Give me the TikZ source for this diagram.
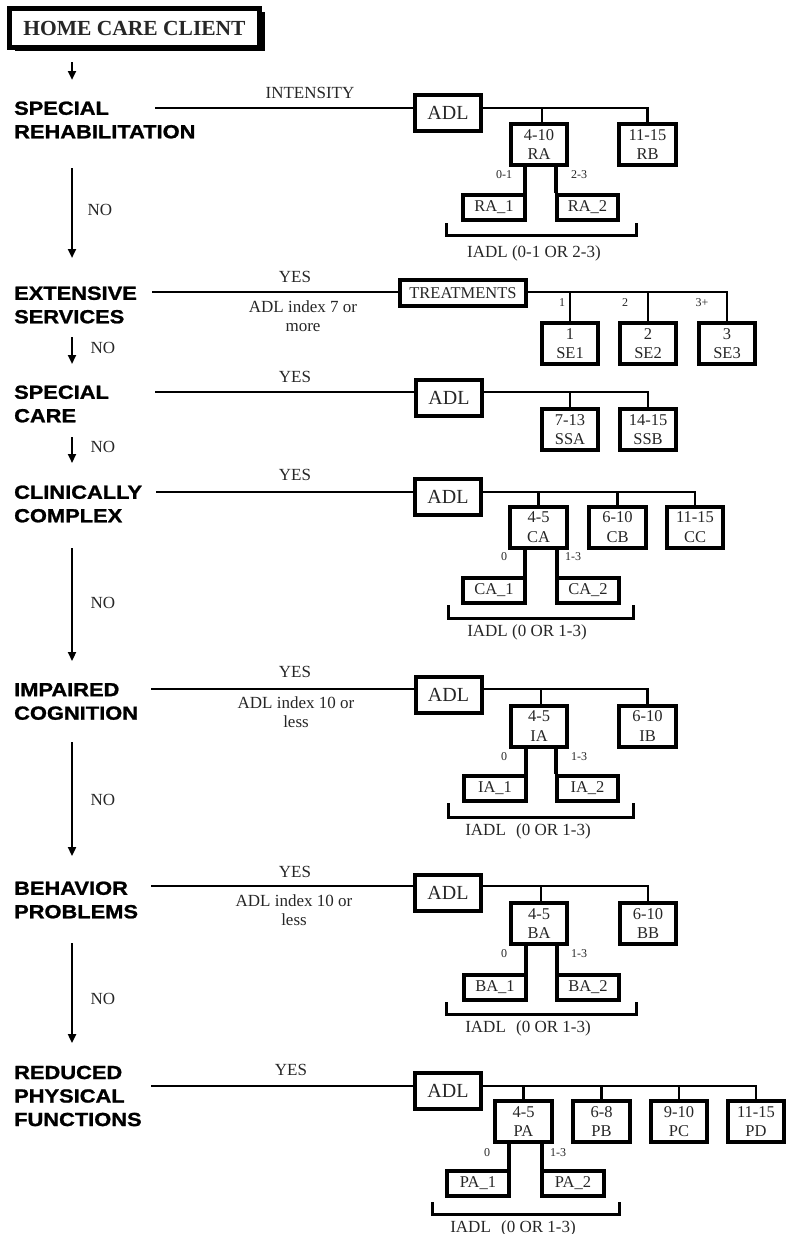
\documentclass[tikz,border=0pt]{standalone}
\usepackage{fontspec}
\setmainfont{Liberation Serif}
\newfontfamily\catfont{Liberation Sans}[FakeStretch=1.15, BoldFeatures={FakeBold=1.2}]
\usetikzlibrary{arrows.meta,shadows}
\begin{document}
\begin{tikzpicture}[x=1pt,y=-1pt,
  bx/.style={draw, line width=4pt, inner sep=0pt, align=center, text=black!85, font=\fontsize{16.5}{19.5}\selectfont},
  adlbox/.style={bx, minimum width=66pt, minimum height=36pt, font=\fontsize{20}{22}\selectfont},
  scbox/.style={bx, minimum width=56.5pt, minimum height=41pt},
  subbox/.style={bx, minimum width=61.5pt, minimum height=25pt},
  catlbl/.style={anchor=west, align=left, inner sep=0pt, font=\catfont\bfseries\fontsize{19}{23.5}\selectfont},
  lbl/.style={inner sep=0pt, align=center, text=black!85, font=\fontsize{17}{18.5}\selectfont},
  smalllbl/.style={inner sep=0pt, text=black!85, font=\fontsize{12}{14}\selectfont},
  conn/.style={line width=2.8pt},
  subconn/.style={line width=3.6pt},
  brk/.style={line width=3pt},
  arr/.style={line width=2.8pt, -{Triangle[length=9pt,width=8pt]}},
]
\useasboundingbox (0,0) rectangle (785,1234);

% ---------- top
\node[draw, line width=5pt, minimum width=250pt, minimum height=39pt, inner sep=0pt,
  fill=white, drop shadow={shadow xshift=5pt, shadow yshift=-3pt, fill=black, opacity=1},
  font=\bfseries\fontsize{21.5}{24}\selectfont, text=black!85] (home) at (134.5,28) {HOME CARE CLIENT};
\coordinate (h0s) at (72,62);
\coordinate (h0e) at (72,80);
\draw[arr] (h0s) -- (h0e);

% ---------- categories
\node[catlbl] (cat1) at (14,120) {SPECIAL\\REHABILITATION};
\node[catlbl] (cat2) at (14,305) {EXTENSIVE\\SERVICES};
\node[catlbl] (cat3) at (14,404) {SPECIAL\\CARE};
\node[catlbl] (cat4) at (14,504) {CLINICALLY\\COMPLEX};
\node[catlbl] (cat5) at (14,701.5) {IMPAIRED\\COGNITION};
\node[catlbl] (cat6) at (14,900) {BEHAVIOR\\PROBLEMS};
\node[catlbl] (cat7) at (14,1096) {REDUCED\\PHYSICAL\\FUNCTIONS};

% ---------- NO arrows
\coordinate (n1s) at (72,168);  \coordinate (n1e) at (72,258);
\coordinate (n2s) at (72,337);  \coordinate (n2e) at (72,364);
\coordinate (n3s) at (72,437);  \coordinate (n3e) at (72,463);
\coordinate (n4s) at (72,548);  \coordinate (n4e) at (72,661);
\coordinate (n5s) at (72,742);  \coordinate (n5e) at (72,856);
\coordinate (n6s) at (72,943);  \coordinate (n6e) at (72,1043);
\draw[arr] (n1s) -- (n1e);
\draw[arr] (n2s) -- (n2e);
\draw[arr] (n3s) -- (n3e);
\draw[arr] (n4s) -- (n4e);
\draw[arr] (n5s) -- (n5e);
\draw[arr] (n6s) -- (n6e);
\node[lbl] (no1) at (100,210) {NO};
\node[lbl] (no2) at (103,348) {NO};
\node[lbl] (no3) at (103,447) {NO};
\node[lbl] (no4) at (103,603) {NO};
\node[lbl] (no5) at (103,800) {NO};
\node[lbl] (no6) at (103,999) {NO};

% ---------- Row 1: special rehabilitation
\coordinate (s1) at (155,108);
\node[lbl] (int1) at (310,93) {INTENSITY};
\node[adlbox] (adl1) at (448,113) {ADL};
\node[scbox] (ra) at (539,144.5) {4-10\\RA};
\node[scbox] (rb) at (647.5,144.5) {11-15\\RB};
\node[subbox] (ra1) at (494,207.5) {RA\_1};
\node[subbox] (ra2) at (587.5,207.5) {RA\_2};
\draw[conn] (s1) -- (s1 -| adl1.west);
\draw[conn] (adl1.east |- s1) -| (rb.north);
\draw[conn] ([xshift=3pt]ra.north |- s1) -- ([xshift=3pt]ra.north);
\draw[subconn] ([xshift=-1.5pt]ra1.north east) -- ([xshift=-1.5pt]ra1.north east |- ra.south);
\draw[subconn] ([xshift=1.5pt]ra2.north west) -- ([xshift=1.5pt]ra2.north west |- ra.south);
\node[smalllbl] (ra1l) at (504,175) {0-1};
\node[smalllbl] (ra2l) at (579,175) {2-3};
\coordinate (b1a) at (446,223); \coordinate (b1b) at (636,235); \coordinate (b1c) at (636,223);
\draw[brk] (b1a) |- (b1b) -- (b1c);
\node[lbl] (iadl1) at (534,253) {IADL (0-1 OR 2-3)};

% ---------- Row 2: extensive services
\coordinate (s2) at (152,292);
\node[lbl] (yes2) at (295,277) {YES};
\node[lbl] (idx2) at (303,316) {ADL index 7 or\\more};
\node[bx, minimum width=126pt, minimum height=26pt] (treat) at (463,293) {TREATMENTS};
\node[scbox] (se1) at (570,343.5) {1\\SE1};
\node[scbox] (se2) at (648,343.5) {2\\SE2};
\node[scbox] (se3) at (727,343.5) {3\\SE3};
\draw[conn] (s2) -- (s2 -| treat.west);
\draw[conn] (treat.east |- s2) -| (se3.north);
\draw[conn] (se1.north |- s2) -- (se1.north);
\draw[conn] (se2.north |- s2) -- (se2.north);
\node[smalllbl] (t1) at (562,303) {1};
\node[smalllbl] (t2) at (625,303) {2};
\node[smalllbl] (t3) at (702,303) {3+};

% ---------- Row 3: special care
\coordinate (s3) at (155,392);
\node[lbl] (yes3) at (295,377) {YES};
\node[adlbox] (adl3) at (449,397.5) {ADL};
\node[scbox] (ssa) at (570,429.5) {7-13\\SSA};
\node[scbox] (ssb) at (648,429.5) {14-15\\SSB};
\draw[conn] (s3) -- (s3 -| adl3.west);
\draw[conn] (adl3.east |- s3) -| (ssb.north);
\draw[conn] (ssa.north |- s3) -- (ssa.north);

% ---------- Row 4: clinically complex
\coordinate (s4) at (156,492);
\node[lbl] (yes4) at (295,475) {YES};
\node[adlbox] (adl4) at (448,497) {ADL};
\node[scbox] (ca) at (538.5,527) {4-5\\CA};
\node[scbox] (cb) at (617.5,527) {6-10\\CB};
\node[scbox] (cc) at (695,527) {11-15\\CC};
\node[subbox] (ca1) at (494,590.5) {CA\_1};
\node[subbox] (ca2) at (588,590.5) {CA\_2};
\draw[conn] (s4) -- (s4 -| adl4.west);
\draw[conn] (adl4.east |- s4) -| (cc.north);
\draw[conn] (ca.north |- s4) -- (ca.north);
\draw[conn] (cb.north |- s4) -- (cb.north);
\draw[subconn] ([xshift=-1.5pt]ca1.north east) -- ([xshift=-1.5pt]ca1.north east |- ca.south);
\draw[subconn] ([xshift=1.5pt]ca2.north west) -- ([xshift=1.5pt]ca2.north west |- ca.south);
\node[smalllbl] (ca1l) at (504,557) {0};
\node[smalllbl] (ca2l) at (573,557) {1-3};
\coordinate (b4a) at (448,605); \coordinate (b4b) at (633,618); \coordinate (b4c) at (633,605);
\draw[brk] (b4a) |- (b4b) -- (b4c);
\node[lbl] (iadl4) at (527,632) {IADL (0 OR 1-3)};

% ---------- Row 5: impaired cognition
\coordinate (s5) at (151,689);
\node[lbl] (yes5) at (295,672) {YES};
\node[lbl] (idx5) at (296,712) {ADL index 10 or\\less};
\node[adlbox] (adl5) at (448.5,694.5) {ADL};
\node[scbox] (ia) at (539,726) {4-5\\IA};
\node[scbox] (ib) at (647.5,726) {6-10\\IB};
\node[subbox] (ia1) at (495,788) {IA\_1};
\node[subbox] (ia2) at (587.5,788) {IA\_2};
\draw[conn] (s5) -- (s5 -| adl5.west);
\draw[conn] (adl5.east |- s5) -| (ib.north);
\draw[conn] ([xshift=2pt]ia.north |- s5) -- ([xshift=2pt]ia.north);
\draw[subconn] ([xshift=-1.5pt]ia1.north east) -- ([xshift=-1.5pt]ia1.north east |- ia.south);
\draw[subconn] ([xshift=1.5pt]ia2.north west) -- ([xshift=1.5pt]ia2.north west |- ia.south);
\node[smalllbl] (ia1l) at (504,757) {0};
\node[smalllbl] (ia2l) at (579,757) {1-3};
\coordinate (b5a) at (448,803); \coordinate (b5b) at (633,817); \coordinate (b5c) at (633,803);
\draw[brk] (b5a) |- (b5b) -- (b5c);
\node[lbl] (iadl5) at (528,831) {IADL\hspace{0.6em}(0 OR 1-3)};

% ---------- Row 6: behavior problems
\coordinate (s6) at (151,886);
\node[lbl] (yes6) at (295,872) {YES};
\node[lbl] (idx6) at (294,910) {ADL index 10 or\\less};
\node[adlbox] (adl6) at (448,892.5) {ADL};
\node[scbox] (ba) at (539,923.5) {4-5\\BA};
\node[scbox] (bb) at (648,923.5) {6-10\\BB};
\node[subbox] (ba1) at (495,987.5) {BA\_1};
\node[subbox] (ba2) at (588,987.5) {BA\_2};
\draw[conn] (s6) -- (s6 -| adl6.west);
\draw[conn] (adl6.east |- s6) -| (bb.north);
\draw[conn] ([xshift=2pt]ba.north |- s6) -- ([xshift=2pt]ba.north);
\draw[subconn] ([xshift=-1.5pt]ba1.north east) -- ([xshift=-1.5pt]ba1.north east |- ba.south);
\draw[subconn] ([xshift=1.5pt]ba2.north west) -- ([xshift=1.5pt]ba2.north west |- ba.south);
\node[smalllbl] (ba1l) at (504,954) {0};
\node[smalllbl] (ba2l) at (579,954) {1-3};
\coordinate (b6a) at (446,1002); \coordinate (b6b) at (636,1014); \coordinate (b6c) at (636,1002);
\draw[brk] (b6a) |- (b6b) -- (b6c);
\node[lbl] (iadl6) at (528,1028) {IADL\hspace{0.6em}(0 OR 1-3)};

% ---------- Row 7: reduced physical functions
\coordinate (s7) at (151,1086);
\node[lbl] (yes7) at (291,1070) {YES};
\node[adlbox] (adl7) at (448,1091) {ADL};
\node[scbox] (pa) at (523.5,1121.5) {4-5\\PA};
\node[scbox] (pb) at (601.5,1121.5) {6-8\\PB};
\node[scbox] (pc) at (679,1121.5) {9-10\\PC};
\node[scbox] (pd) at (756,1121.5) {11-15\\PD};
\node[subbox] (pa1) at (478,1183.5) {PA\_1};
\node[subbox] (pa2) at (573,1183.5) {PA\_2};
\draw[conn] (s7) -- (s7 -| adl7.west);
\draw[conn] (adl7.east |- s7) -| (pd.north);
\draw[conn] (pa.north |- s7) -- (pa.north);
\draw[conn] (pb.north |- s7) -- (pb.north);
\draw[conn] (pc.north |- s7) -- (pc.north);
\draw[subconn] ([xshift=-1.5pt]pa1.north east) -- ([xshift=-1.5pt]pa1.north east |- pa.south);
\draw[subconn] ([xshift=1.5pt]pa2.north west) -- ([xshift=1.5pt]pa2.north west |- pa.south);
\node[smalllbl] (pa1l) at (487,1153) {0};
\node[smalllbl] (pa2l) at (558,1153) {1-3};
\coordinate (b7a) at (432,1202); \coordinate (b7b) at (619,1214); \coordinate (b7c) at (619,1202);
\draw[brk] (b7a) |- (b7b) -- (b7c);
\node[lbl] (iadl7) at (513,1228) {IADL\hspace{0.6em}(0 OR 1-3)};
\end{tikzpicture}
\end{document}
